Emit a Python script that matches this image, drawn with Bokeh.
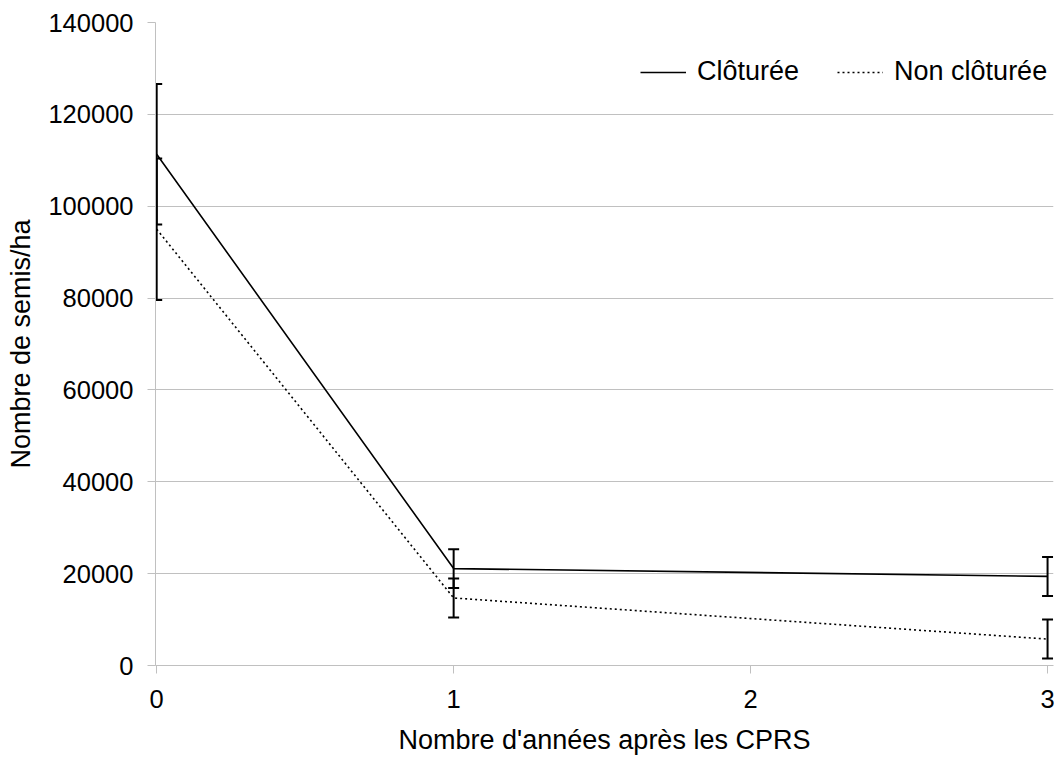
from bokeh.plotting import figure
from bokeh.models import (ColumnDataSource, Range1d, FixedTicker, NumeralTickFormatter,
                          Whisker, TeeHead, Legend, LegendItem)
from bokeh.embed import file_html
from bokeh.resources import INLINE

years = [0, 1, 3]
cloturee = [111300, 21100, 19400]
cloturee_err = [15300, 4200, 4250]
non_cloturee = [95000, 14700, 5750]
non_cloturee_err = [15400, 4250, 4250]
x_ticks = [0, 1, 2, 3]
y_ticks = [0, 20000, 40000, 60000, 80000, 100000, 120000, 140000]

FONT = "Liberation Sans"

p = figure(width=1063, height=760, output_backend="svg", toolbar_location=None,
           x_range=Range1d(-0.004, 3.02), y_range=Range1d(0, 140000),
           min_border_left=155, min_border_right=10, min_border_top=22, min_border_bottom=95)
p.outline_line_color = None
p.background_fill_color = "white"
p.border_fill_color = "white"

p.xgrid.grid_line_color = None
p.ygrid.grid_line_color = "#c0c0c0"
p.ygrid.grid_line_width = 1

for ax in (p.xaxis[0], p.yaxis[0]):
    ax.axis_line_color = "#c0c0c0"
    ax.major_tick_line_color = "#c0c0c0"
    ax.major_tick_in = 0
    ax.major_tick_out = 8
    ax.minor_tick_line_color = None
    ax.major_label_text_font = FONT
    ax.major_label_text_font_size = "25.5px"
    ax.major_label_text_color = "black"
    ax.axis_label_text_font = FONT
    ax.axis_label_text_font_size = "27px"
    ax.axis_label_text_font_style = "normal"
    ax.axis_label_text_color = "black"

p.xaxis.ticker = FixedTicker(ticks=x_ticks)
p.yaxis.ticker = FixedTicker(ticks=y_ticks)
p.yaxis.formatter = NumeralTickFormatter(format="0")
p.xaxis.major_label_standoff = 16
p.yaxis.major_label_standoff = 14
p.xaxis.axis_label = "Nombre d'années après les CPRS"
p.yaxis.axis_label = "Nombre de semis/ha"
p.xaxis.axis_label_standoff = 14
p.yaxis.axis_label_standoff = 9

src_c = ColumnDataSource(dict(x=years, y=cloturee,
                              lo=[v - e for v, e in zip(cloturee, cloturee_err)],
                              hi=[v + e for v, e in zip(cloturee, cloturee_err)]))
src_n = ColumnDataSource(dict(x=years, y=non_cloturee,
                              lo=[v - e for v, e in zip(non_cloturee, non_cloturee_err)],
                              hi=[v + e for v, e in zip(non_cloturee, non_cloturee_err)]))

r_c = p.line("x", "y", source=src_c, line_color="black", line_width=1.6)
r_n = p.line("x", "y", source=src_n, line_color="black", line_width=1.6, line_dash="2 3")

for src in (src_c, src_n):
    w = Whisker(source=src, base="x", lower="lo", upper="hi", dimension="height",
                line_color="black", line_width=2,
                upper_head=TeeHead(size=11, line_color="black", line_width=2),
                lower_head=TeeHead(size=11, line_color="black", line_width=2))
    p.add_layout(w)

legend = Legend(items=[LegendItem(label="Clôturée", renderers=[r_c]),
                       LegendItem(label="Non clôturée", renderers=[r_n])],
                orientation="horizontal", location=(485, 578),
                label_text_font=FONT, label_text_font_size="27px", label_text_color="black",
                glyph_width=46, glyph_height=30, label_height=30, label_standoff=11,
                spacing=38, padding=0, margin=0,
                border_line_color=None, background_fill_alpha=0)
p.add_layout(legend)

open("out.html", "w").write(file_html(p, INLINE))
